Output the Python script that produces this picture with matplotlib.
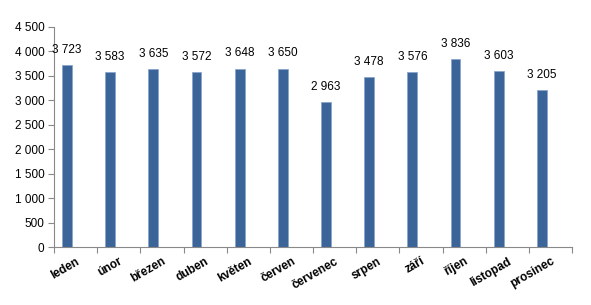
import numpy as np
import matplotlib
matplotlib.use('Agg')
from matplotlib import pyplot as plt
from matplotlib.ticker import FuncFormatter, FixedLocator

months = ['leden', 'únor', 'březen', 'duben', 'květen', 'červen',
          'červenec', 'srpen', 'září', 'říjen', 'listopad', 'prosinec']
values = [3723, 3583, 3635, 3572, 3648, 3650, 2963, 3478, 3576, 3836, 3603, 3205]

plt.rcParams['font.family'] = ['Liberation Sans', 'DejaVu Sans']

fig = plt.figure(figsize=(5.91, 3.05), dpi=100)
ax = fig.add_axes([0.0914, 0.19, 0.968 - 0.0914, 0.9115 - 0.19])

x = np.arange(len(months))
bars = ax.bar(x - 0.2, values, width=0.23, color='#3b6598',
              edgecolor='#8aa6cc', linewidth=0.6)

def fmt(v, pos=None):
    return '{:,}'.format(int(v)).replace(',', ' ')

# value labels above the bars
for xi, v in zip(x, values):
    ax.text(xi - 0.2, v + 190, fmt(v), ha='center', va='bottom', fontsize=8.5, color='#000000')

ax.set_xlim(-0.5, len(months) - 0.5)
ax.set_ylim(0, 4500)
ax.set_yticks(np.arange(0, 4501, 500))
ax.yaxis.set_major_formatter(FuncFormatter(fmt))

ax.set_xticks(x)
ax.set_xticklabels(months, rotation=30, ha='right', rotation_mode='anchor',
                   fontsize=8.5, fontweight='bold')
ax.xaxis.set_minor_locator(FixedLocator(np.arange(-0.5, len(months), 1)))
ax.tick_params(axis='x', which='major', length=0, pad=6)
ax.tick_params(axis='x', which='minor', length=4, color='#898989', width=0.8)
ax.tick_params(axis='y', length=4, color='#898989', width=0.8, labelsize=8.5, pad=3)

for side in ['top', 'right']:
    ax.spines[side].set_visible(False)
for side in ['left', 'bottom']:
    ax.spines[side].set_color('#898989')
    ax.spines[side].set_linewidth(0.8)

fig.savefig('out.png', dpi=100)
